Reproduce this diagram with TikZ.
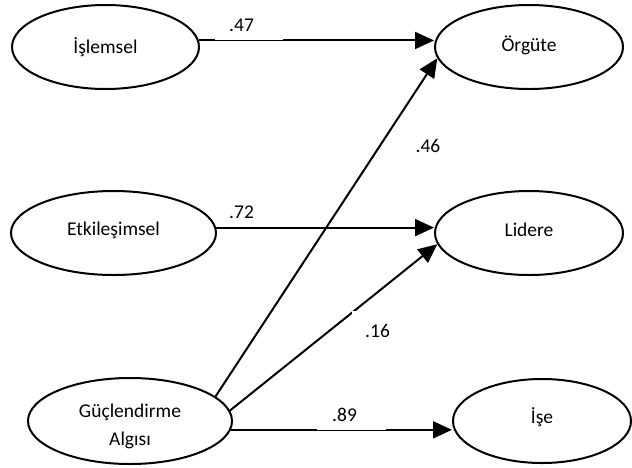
\documentclass[tikz,border=0pt]{standalone}
\usepackage{fontspec}
\setmainfont{Carlito}
\usetikzlibrary{arrows.meta,shapes.geometric}
\begin{document}
\begin{tikzpicture}[x=1pt,y=-1pt,
  ell/.style={draw,ellipse,line width=2pt,inner sep=0pt},
  txt/.style={font=\fontsize{19.5}{28}\selectfont,align=center},
  arr/.style={line width=2pt,-{Triangle[length=19pt,width=17pt]}},
  numlab/.style={fill=white,font=\fontsize{19.5}{24}\selectfont,text height=12pt,text depth=0pt,align=left}
]
\useasboundingbox (0,0) rectangle (632,467);
% ellipses
\node[ell,minimum width=187pt,minimum height=84pt,label={[txt,anchor=base,yshift=0pt]center:İşlemsel}] (isl) at (105.5,47) {};
\node[ell,minimum width=188pt,minimum height=84pt,label={[txt,anchor=base,yshift=2pt]center:Örgüte}] (org) at (529,47) {};
\node[ell,minimum width=205pt,minimum height=84pt,label={[txt,anchor=base,yshift=3pt]center:Etkileşimsel}] (etk) at (113.5,233) {};
\node[ell,minimum width=188pt,minimum height=84pt,label={[txt,anchor=base,yshift=3pt]center:Lidere}] (lid) at (529,233) {};
\node[ell,minimum width=204pt,minimum height=86pt,label={[txt,yshift=-5pt]center:Güçlendirme\\Algısı}] (guc) at (130,421) {};
\node[ell,minimum width=178pt,minimum height=84pt,label={[txt,anchor=base,yshift=4pt]center:İşe}] (ise) at (542,421) {};
% connectors
\draw[arr] (isl.4) -- (isl.4 -| org.west);
\draw[arr] (etk.3) -- (etk.3 -| lid.west);
\draw[arr] (guc.-5) -- (guc.-5 -| ise.west);
\draw[arr] (guc.16) -- (org.187);
\draw[arr] (guc.6) -- (lid.187);
% coefficient labels
\node[numlab,anchor=south west,inner xsep=14pt,inner ysep=8pt,text width=40pt] (l47) at (215,40) {.47};
\node[numlab,anchor=south west,inner xsep=13pt,inner ysep=8pt,text width=41pt] (l72) at (216,227) {.72};
\node[numlab,anchor=south west,inner xsep=15pt,inner ysep=8pt,text width=39pt] (l89) at (317,430) {.89};
\node[numlab,anchor=north west,inner xsep=13pt,inner ysep=14pt,text width=30pt] (l16) at (352,311) {.16};
\node[font=\fontsize{19.5}{24}\selectfont,inner sep=0pt] (l46) at (428,146) {.46};
\end{tikzpicture}
\end{document}
